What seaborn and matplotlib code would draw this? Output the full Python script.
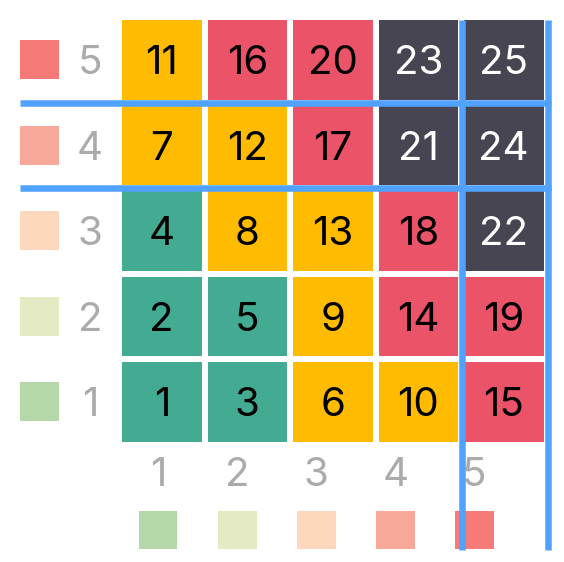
import numpy as np
import matplotlib
matplotlib.use("Agg")
import matplotlib.pyplot as plt
import seaborn as sns
from matplotlib.colors import ListedColormap

# -------------------- DATA --------------------
likelihood = [5, 4, 3, 2, 1]      # rows, top to bottom
impact = [1, 2, 3, 4, 5]          # columns, left to right
scores = [
    [11, 16, 20, 23, 25],
    [7, 12, 17, 21, 24],
    [4, 8, 13, 18, 22],
    [2, 5, 9, 14, 19],
    [1, 3, 6, 10, 15],
]
# risk band of each cell: 0 low, 1 medium, 2 high, 3 critical
bands = [
    [1, 2, 2, 3, 3],
    [1, 1, 2, 3, 3],
    [0, 1, 1, 2, 3],
    [0, 0, 1, 2, 2],
    [0, 0, 1, 1, 2],
]
band_colors = ["#42AB91", "#FFBB00", "#EB5369", "#474551"]
band_text = ["black", "black", "black", "white"]
level_colors = ["#B5D8A9", "#E4EBC4", "#FDD8BC", "#F8A898", "#F67A77"]  # level 1..5

# threshold lines, on cell boundaries
hline_rows = [1, 2]
vline_cols = [4, 5]

# -------------------- LAYOUT --------------------
W, H = 564, 562
FONT = ["Inter", "DejaVu Sans"]
GRAY = "#ABABAB"
BLUE = "#51A2FF"
FS = 29
TXT = {"fontsize": FS, "family": FONT, "fontweight": "normal",
       "va": "center_baseline"}

sns.set_style("white")
plt.rcParams["font.family"] = FONT

fig = plt.figure(figsize=(W / 100, H / 100), dpi=100)


def px_axes(x0, y0, x1, y1):
    a = fig.add_axes([x0 / W, 1 - y1 / H, (x1 - x0) / W, (y1 - y0) / H])
    a.patch.set_visible(False)
    return a


# -------------------- MATRIX --------------------
ax = px_axes(119, 17, 546.5, 444.5)
sns.heatmap(np.array(bands), annot=np.array(scores), fmt="d",
            cmap=ListedColormap(band_colors), vmin=-0.5, vmax=3.5,
            cbar=False, linewidths=4.3, linecolor="white", ax=ax,
            annot_kws=TXT)
for t, b in zip(ax.texts, np.array(bands).flat):
    t.set_color(band_text[b])
ax.set_xticks([])
ax.set_yticks([])
ax.set_zorder(3)

for r in hline_rows:
    ax.plot([-1.158, 5.05], [r, r], color=BLUE, lw=4.7, clip_on=False,
            solid_capstyle="butt", zorder=5)
for c in vline_cols:
    ax.plot([c + 0.015, c + 0.015], [0.035, 6.234], color=BLUE, lw=4.7,
            clip_on=False, solid_capstyle="butt", zorder=5)

# -------------------- LEFT LEGEND (likelihood) --------------------
ax_l = px_axes(14.25, 17, 115.25, 444.5)
ax_l.set_xlim(-0.5, 1.5)
ax_l.set_ylim(5, 0)
ax_l.axis("off")
rows = np.arange(len(likelihood)) + 0.5
ax_l.scatter(np.zeros(len(likelihood)), rows, marker="s", s=788, linewidths=0,
             c=[level_colors[l - 1] for l in likelihood])
for y, l in zip(rows, likelihood):
    ax_l.text(1, y, str(l), ha="center", color=GRAY, **TXT)

# -------------------- BOTTOM LEGEND (impact) --------------------
ax_b = px_axes(118.45, 441.5, 513.95, 559.5)
ax_b.set_xlim(-0.5, 4.5)
ax_b.set_ylim(2, 0)
ax_b.axis("off")
cols = np.arange(len(impact))
ax_b.scatter(cols, np.full(len(impact), 1.5), marker="s", s=788, linewidths=0,
             c=[level_colors[i - 1] for i in impact])
for x, i in zip(cols, impact):
    ax_b.text(x, 0.5, str(i), ha="center", color=GRAY, **TXT)

plt.savefig("out.png", dpi=100)
